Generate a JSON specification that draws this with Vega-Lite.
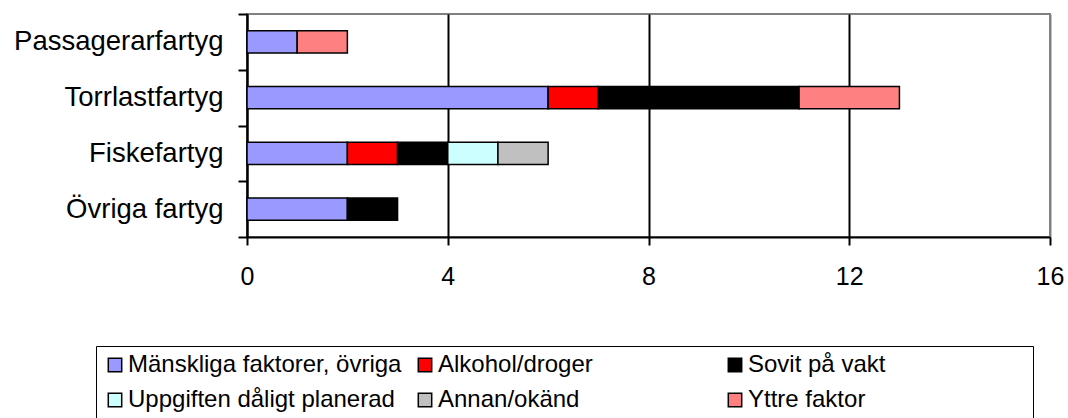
{
  "$schema": "https://vega.github.io/schema/vega-lite/v6.json",
  "width": 803,
  "height": 223,
  "autosize": {"type": "none"},
  "padding": {"left": 247, "top": 14, "right": 18, "bottom": 181},
  "background": "white",
  "config": {
    "font": "Liberation Sans",
    "view": {"stroke": "#808080", "strokeWidth": 2}
  },
  "data": {
    "values": [
      {"fartyg": "Passagerarfartyg", "orsak": "Mänskliga faktorer, övriga", "ordning": 1, "antal": 1},
      {"fartyg": "Passagerarfartyg", "orsak": "Yttre faktor", "ordning": 6, "antal": 1},
      {"fartyg": "Torrlastfartyg", "orsak": "Mänskliga faktorer, övriga", "ordning": 1, "antal": 6},
      {"fartyg": "Torrlastfartyg", "orsak": "Alkohol/droger", "ordning": 2, "antal": 1},
      {"fartyg": "Torrlastfartyg", "orsak": "Sovit på vakt", "ordning": 3, "antal": 4},
      {"fartyg": "Torrlastfartyg", "orsak": "Yttre faktor", "ordning": 6, "antal": 2},
      {"fartyg": "Fiskefartyg", "orsak": "Mänskliga faktorer, övriga", "ordning": 1, "antal": 2},
      {"fartyg": "Fiskefartyg", "orsak": "Alkohol/droger", "ordning": 2, "antal": 1},
      {"fartyg": "Fiskefartyg", "orsak": "Sovit på vakt", "ordning": 3, "antal": 1},
      {"fartyg": "Fiskefartyg", "orsak": "Uppgiften dåligt planerad", "ordning": 4, "antal": 1},
      {"fartyg": "Fiskefartyg", "orsak": "Annan/okänd", "ordning": 5, "antal": 1},
      {"fartyg": "Övriga fartyg", "orsak": "Mänskliga faktorer, övriga", "ordning": 1, "antal": 2},
      {"fartyg": "Övriga fartyg", "orsak": "Sovit på vakt", "ordning": 3, "antal": 1}
    ]
  },
  "mark": {"type": "bar", "stroke": "black", "strokeWidth": 1.5, "height": {"band": 0.4}},
  "encoding": {
    "y": {
      "field": "fartyg",
      "type": "nominal",
      "sort": ["Passagerarfartyg", "Torrlastfartyg", "Fiskefartyg", "Övriga fartyg"],
      "scale": {"paddingInner": 0, "paddingOuter": 0},
      "axis": {
        "title": null,
        "tickBand": "extent",
        "domainColor": "black",
        "domainWidth": 2,
        "tickColor": "black",
        "tickWidth": 2,
        "tickSize": 9,
        "labelFontSize": 27.5,
        "labelColor": "black",
        "labelPadding": 15,
        "labelLimit": 400,
        "grid": false
      }
    },
    "x": {
      "field": "antal",
      "type": "quantitative",
      "stack": "zero",
      "scale": {"domain": [0, 16], "nice": false},
      "axis": {
        "title": null,
        "values": [0, 4, 8, 12, 16],
        "grid": true,
        "gridColor": {"condition": {"test": "datum.value === 16", "value": "#808080"}, "value": "black"},
        "gridWidth": 2,
        "gridOpacity": 1,
        "domainColor": "black",
        "domainWidth": 2,
        "tickColor": "black",
        "tickWidth": 2,
        "tickSize": 8,
        "labelFontSize": 25,
        "labelColor": "black",
        "labelPadding": 19,
        "labelFlush": false,
        "labelOverlap": false
      }
    },
    "order": {"field": "ordning", "type": "quantitative", "sort": "ascending"},
    "color": {
      "field": "orsak",
      "type": "nominal",
      "sort": ["Mänskliga faktorer, övriga", "Alkohol/droger", "Sovit på vakt", "Uppgiften dåligt planerad", "Annan/okänd", "Yttre faktor"],
      "scale": {
        "domain": ["Mänskliga faktorer, övriga", "Alkohol/droger", "Sovit på vakt", "Uppgiften dåligt planerad", "Annan/okänd", "Yttre faktor"],
        "range": ["#9999FF", "#FF0000", "#000000", "#CCFFFF", "#C0C0C0", "#FF8080"]
      },
      "legend": {
        "title": " ",
        "titleOrient": "right",
        "titleFontSize": 1,
        "titlePadding": 141,
        "orient": "none",
        "legendX": -151,
        "legendY": 332,
        "direction": "horizontal",
        "columns": 3,
        "gridAlign": "all",
        "columnPadding": 11,
        "rowPadding": 11,
        "padding": 7,
        "strokeColor": "black",
        "fillColor": "white",
        "symbolType": "square",
        "symbolSize": 180,
        "symbolStrokeColor": "black",
        "symbolStrokeWidth": 1.5,
        "symbolOpacity": 1,
        "labelFontSize": 24,
        "labelColor": "black",
        "labelOffset": 1,
        "labelLimit": 400
      }
    }
  }
}
